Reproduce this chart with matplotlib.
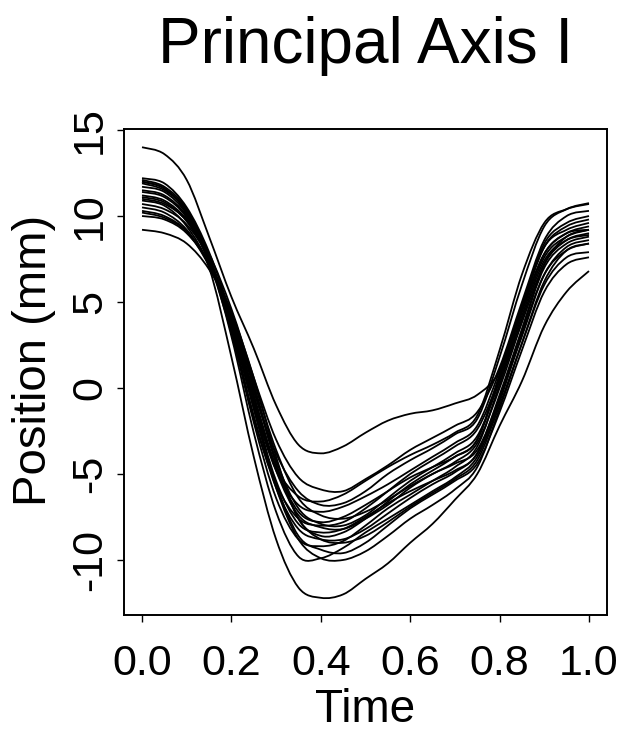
import matplotlib
matplotlib.use("Agg")
import matplotlib.pyplot as plt
from matplotlib.path import Path
from matplotlib.patches import PathPatch

plt.rcParams['font.family'] = ['Liberation Sans', 'DejaVu Sans']

title = "Principal Axis I"
x_label = "Time"
y_label = "Position (mm)"
x_ticks = [0.0, 0.2, 0.4, 0.6, 0.8, 1.0]
x_tick_labels = ["0.0", "0.2", "0.4", "0.6", "0.8", "1.0"]
y_ticks = [-10, -5, 0, 5, 10, 15]
y_tick_labels = ["-10", "-5", "0", "5", "10", "15"]

time = [0.00, 0.05, 0.10, 0.15, 0.20, 0.25, 0.30, 0.35, 0.40, 0.45, 0.50,
        0.55, 0.60, 0.65, 0.70, 0.75, 0.80, 0.85, 0.90, 0.95, 1.00]

curve_01 = [14.0, 13.6, 12.1, 8.8, 5.3, 2.3, -1.0, -3.3, -3.8, -3.4, -2.6, -1.9, -1.5, -1.3, -0.9, -0.4, 1.0, 4.6, 7.8, 9.0, 9.4]
curve_02 = [10.9, 10.6, 9.4, 7.0, 1.8, -4.0, -8.8, -11.6, -12.2, -12.0, -11.1, -10.2, -9.0, -7.9, -6.5, -5.0, -2.2, 0.4, 3.6, 5.6, 6.8]
curve_03 = [11.5, 11.2, 10.0, 7.5, 3.0, -2.6, -7.2, -9.8, -9.9, -9.3, -8.4, -7.6, -6.8, -6.0, -5.2, -4.0, -0.8, 3.2, 6.6, 8.2, 8.6]
curve_04 = [12.0, 11.6, 10.2, 7.6, 3.8, -1.2, -5.8, -8.8, -9.9, -10.0, -9.5, -8.6, -7.6, -6.8, -5.9, -4.6, -1.2, 2.6, 6.2, 8.0, 8.4]
curve_05 = [11.2, 10.9, 9.8, 7.8, 4.6, 0.6, -3.0, -5.2, -5.9, -6.0, -5.3, -4.5, -3.6, -2.9, -2.2, -1.4, 1.2, 5.0, 8.6, 10.0, 10.3]
curve_06 = [12.2, 11.9, 10.5, 7.9, 4.2, -0.2, -3.8, -6.0, -6.8, -6.7, -6.0, -5.0, -4.2, -3.5, -2.7, -1.8, 1.8, 6.0, 9.4, 10.4, 10.75]
curve_07 = [11.7, 11.4, 10.1, 7.4, 3.6, -1.0, -4.8, -6.8, -7.2, -6.9, -6.3, -5.6, -4.8, -4.0, -3.2, -2.2, 1.0, 4.8, 8.4, 9.6, 10.0]
curve_08 = [10.5, 10.2, 9.2, 7.2, 4.4, 0.4, -3.6, -6.4, -7.4, -7.6, -7.2, -6.5, -5.7, -5.0, -4.3, -3.2, 0.0, 3.8, 7.2, 8.6, 9.0]
curve_09 = [11.9, 11.5, 10.3, 7.7, 3.5, -1.8, -5.6, -7.6, -8.0, -7.8, -7.0, -6.0, -5.0, -4.2, -3.4, -2.4, 0.6, 4.4, 7.8, 9.0, 9.2]
curve_10 = [11.0, 10.7, 9.7, 7.4, 3.8, -1.0, -5.4, -7.9, -8.4, -8.2, -7.5, -6.7, -6.0, -5.4, -4.8, -3.8, -0.4, 3.4, 7.0, 8.4, 8.8]
curve_11 = [12.1, 11.7, 10.4, 7.6, 3.4, -1.6, -5.8, -8.2, -8.8, -8.8, -8.2, -7.3, -6.4, -5.6, -4.9, -3.8, -0.6, 3.4, 7.2, 8.8, 9.2]
curve_12 = [10.3, 10.0, 9.1, 7.1, 4.2, 0.0, -4.4, -7.6, -8.8, -9.0, -8.6, -7.8, -6.9, -6.1, -5.3, -4.2, -1.0, 2.6, 6.0, 7.6, 7.9]
curve_13 = [11.4, 11.1, 9.9, 7.3, 3.2, -2.0, -6.4, -8.8, -9.2, -8.9, -8.0, -7.0, -6.2, -5.4, -4.6, -3.4, 0.2, 4.0, 7.4, 8.6, 8.9]
curve_14 = [9.2, 9.0, 8.4, 6.9, 4.4, 0.6, -4.0, -7.6, -8.6, -8.4, -7.6, -6.6, -5.6, -4.8, -4.0, -3.0, 0.6, 4.6, 8.2, 9.4, 9.8]
curve_15 = [10.0, 9.8, 9.0, 7.2, 4.0, -0.4, -4.6, -7.2, -7.8, -7.5, -6.8, -6.0, -5.2, -4.6, -4.0, -3.0, 0.8, 4.8, 8.2, 9.2, 9.6]
curve_16 = [10.7, 10.4, 9.5, 7.5, 4.0, -0.6, -4.8, -7.4, -8.1, -8.2, -7.6, -6.8, -5.8, -5.0, -4.4, -3.6, -0.6, 3.0, 6.6, 8.0, 8.4]
curve_17 = [12.0, 11.6, 10.3, 7.6, 3.6, -1.2, -5.6, -8.6, -9.4, -9.6, -9.0, -8.0, -7.0, -6.2, -5.4, -4.4, -1.4, 2.2, 5.6, 7.2, 7.6]
curve_18 = [11.1, 10.8, 9.7, 7.5, 3.8, -0.8, -4.6, -6.3, -6.6, -6.2, -5.4, -4.6, -3.9, -3.3, -2.6, -1.6, 2.2, 6.6, 9.6, 10.4, 10.7]
curve_19 = [10.2, 9.9, 9.1, 7.3, 4.2, 0.2, -4.2, -7.0, -7.9, -8.0, -7.4, -6.4, -5.4, -4.6, -3.8, -2.8, 0.4, 4.2, 7.6, 8.8, 9.2]

curves = [curve_01, curve_02, curve_03, curve_04, curve_05, curve_06, curve_07,
          curve_08, curve_09, curve_10, curve_11, curve_12, curve_13, curve_14,
          curve_15, curve_16, curve_17, curve_18, curve_19]


def smooth_path(xs, ys):
    """Cubic Bezier path through the given points (Catmull-Rom style handles)."""
    pts = list(zip(xs, ys))
    n = len(pts)
    verts = [pts[0]]
    codes = [Path.MOVETO]
    for i in range(n - 1):
        p0 = pts[i - 1] if i > 0 else pts[i]
        p1 = pts[i]
        p2 = pts[i + 1]
        p3 = pts[i + 2] if i + 2 < n else pts[i + 1]
        c1 = (p1[0] + (p2[0] - p0[0]) / 6.0, p1[1] + (p2[1] - p0[1]) / 6.0)
        c2 = (p2[0] - (p3[0] - p1[0]) / 6.0, p2[1] - (p3[1] - p1[1]) / 6.0)
        verts += [c1, c2, p2]
        codes += [Path.CURVE4, Path.CURVE4, Path.CURVE4]
    return Path(verts, codes)


W, H = 622, 735
fig = plt.figure(figsize=(W / 100, H / 100), dpi=100)
ax_l, ax_r, ax_t, ax_b = 124, 607, 129, 615
ax = fig.add_axes([ax_l / W, 1 - ax_b / H, (ax_r - ax_l) / W, (ax_b - ax_t) / H])

for c in curves:
    ax.add_patch(PathPatch(smooth_path(time, c), facecolor='none',
                           edgecolor='black', lw=1.3, joinstyle='round'))

ax.set_xlim(-0.0403, 1.0403)
ax.set_ylim(-13.2, 15.06)
ax.set_xticks(x_ticks)
ax.set_xticklabels(x_tick_labels)
ax.set_yticks(y_ticks)
ax.set_yticklabels(y_tick_labels, rotation=90, va='center')

for s in ax.spines.values():
    s.set_linewidth(1.4)
ax.tick_params(axis='both', direction='out', length=5, width=1.0, labelsize=31, color='black')
ax.tick_params(axis='x', pad=16)
ax.tick_params(axis='y', pad=5)

ax.set_xlabel(x_label, fontsize=33, labelpad=3)
fig.text(34 / W, 1 - 360 / H, y_label, fontsize=34, rotation=90, ha='center', va='center')

fig.text((ax_l + ax_r) / 2 / W, 1 - 63 / H, title, fontsize=46, ha='center', va='baseline')

fig.savefig("out.png", dpi=100)
